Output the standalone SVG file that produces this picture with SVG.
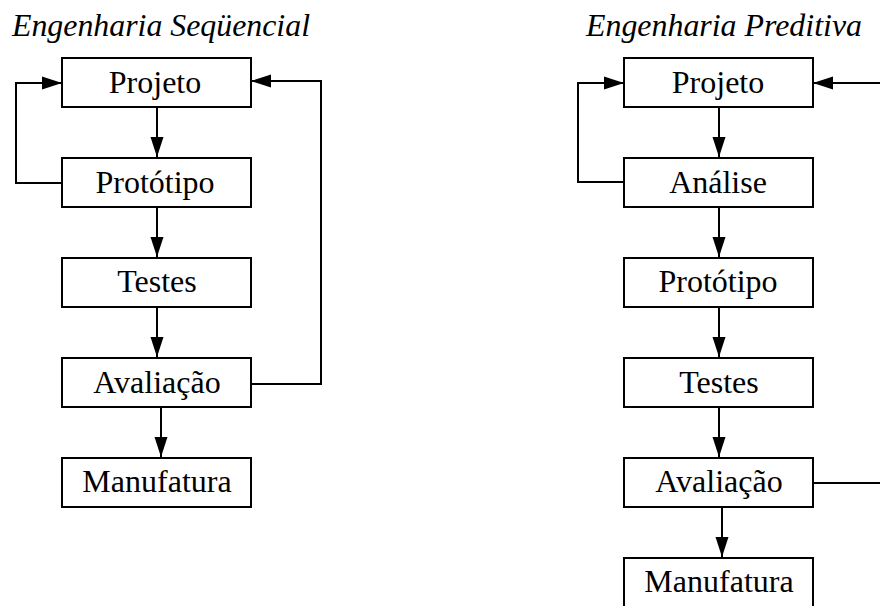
<svg xmlns="http://www.w3.org/2000/svg" width="880" height="606" viewBox="0 0 880 606">
  <style>
    .box { fill: #fff; stroke: #000; stroke-width: 2; }
    .lbl { font-family: "Liberation Serif", "Times New Roman", serif; font-size: 32px; fill: #000; text-anchor: middle; }
    .title { font-family: "Liberation Serif", "Times New Roman", serif; font-size: 31px; font-style: italic; fill: #000; }
    .wire { fill: none; stroke: #000; stroke-width: 2; }
  </style>
  <defs>
    <marker id="arrow" viewBox="0 0 20 14" refX="20" refY="7" markerWidth="20" markerHeight="14" markerUnits="userSpaceOnUse" orient="auto">
      <path d="M0,0.5 L20,7 L0,13.5 Z" fill="#000"/>
    </marker>
  </defs>
  <rect width="880" height="606" fill="#fff"/>

  <text class="title" x="12" y="36" textLength="298" lengthAdjust="spacingAndGlyphs">Engenharia Seqüencial</text>
  <text class="title" x="586" y="36" textLength="276" lengthAdjust="spacingAndGlyphs">Engenharia Preditiva</text>

  <g id="connectors">
    <!-- sequential column -->
    <line class="wire" x1="157" y1="107" x2="157" y2="157" marker-end="url(#arrow)"/>
    <line class="wire" x1="157" y1="207" x2="157" y2="257" marker-end="url(#arrow)"/>
    <line class="wire" x1="157" y1="307" x2="157" y2="357" marker-end="url(#arrow)"/>
    <line class="wire" x1="161" y1="407" x2="161" y2="457" marker-end="url(#arrow)"/>
    <polyline class="wire" points="62,183 16,183 16,83 62,83" marker-end="url(#arrow)"/>
    <polyline class="wire" points="251,384 321,384 321,81 251,81" marker-end="url(#arrow)"/>
    <!-- predictive column -->
    <line class="wire" x1="719" y1="107" x2="719" y2="157" marker-end="url(#arrow)"/>
    <line class="wire" x1="719" y1="207" x2="719" y2="257" marker-end="url(#arrow)"/>
    <line class="wire" x1="719" y1="307" x2="719" y2="357" marker-end="url(#arrow)"/>
    <line class="wire" x1="719" y1="407" x2="719" y2="457" marker-end="url(#arrow)"/>
    <line class="wire" x1="722" y1="507" x2="722" y2="557" marker-end="url(#arrow)"/>
    <polyline class="wire" points="624,182 578,182 578,83 624,83" marker-end="url(#arrow)"/>
    <line class="wire" x1="882" y1="83" x2="813" y2="83" marker-end="url(#arrow)"/>
    <line class="wire" x1="813" y1="483" x2="882" y2="483"/>
  </g>

  <!-- sequential engineering -->
  <g id="seq-projeto"><rect class="box" x="62" y="58" width="189" height="49"/><text class="lbl" x="155" y="93">Projeto</text></g>
  <g id="seq-prototipo"><rect class="box" x="62" y="158" width="189" height="49"/><text class="lbl" x="155" y="193">Protótipo</text></g>
  <g id="seq-testes"><rect class="box" x="62" y="258" width="189" height="49"/><text class="lbl" x="157" y="292">Testes</text></g>
  <g id="seq-avaliacao"><rect class="box" x="62" y="358" width="189" height="49"/><text class="lbl" x="157" y="393">Avaliação</text></g>
  <g id="seq-manufatura"><rect class="box" x="62" y="458" width="189" height="49"/><text class="lbl" x="157" y="492">Manufatura</text></g>

  <!-- predictive engineering -->
  <g id="pred-projeto"><rect class="box" x="624" y="58" width="189" height="49"/><text class="lbl" x="718" y="93">Projeto</text></g>
  <g id="pred-analise"><rect class="box" x="624" y="158" width="189" height="49"/><text class="lbl" x="718" y="193">Análise</text></g>
  <g id="pred-prototipo"><rect class="box" x="624" y="258" width="189" height="49"/><text class="lbl" x="718" y="292">Protótipo</text></g>
  <g id="pred-testes"><rect class="box" x="624" y="358" width="189" height="49"/><text class="lbl" x="719" y="393">Testes</text></g>
  <g id="pred-avaliacao"><rect class="box" x="624" y="458" width="189" height="49"/><text class="lbl" x="719" y="492">Avaliação</text></g>
  <g id="pred-manufatura"><rect class="box" x="624" y="558" width="189" height="52"/><text class="lbl" x="719" y="592">Manufatura</text></g>
</svg>
